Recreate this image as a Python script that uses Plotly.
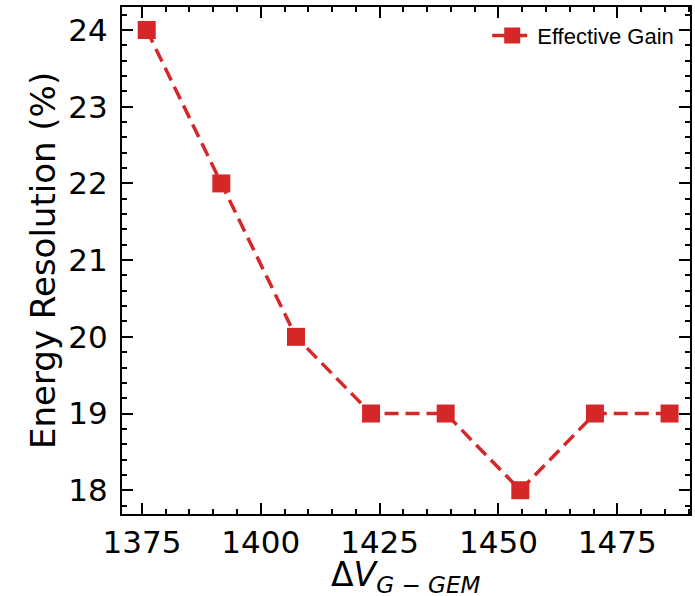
import plotly.graph_objects as go

voltage = [1376, 1391.7, 1407.4, 1423.2, 1438.9, 1454.6, 1470.3, 1486]
resolution = [24, 22, 20, 19, 19, 18, 19, 19]
series_name = "Effective Gain"
x_title = "Δ<i>V</i><sub><i>G − GEM</i></sub>"
y_title = "Energy Resolution (%)"

red = "#d62728"
font_main = "DejaVu Sans"

fig = go.Figure()
fig.add_trace(go.Scatter(
    x=voltage, y=resolution, name=series_name, mode="lines+markers",
    line=dict(color=red, width=3.5, dash="14px,7px"),
    marker=dict(symbol="square", size=18, color=red),
))

axis_common = dict(
    showline=True, linewidth=2, linecolor="black", mirror="ticks",
    ticks="inside", ticklen=11, tickwidth=2, tickcolor="black",
    showgrid=False, zeroline=False,
    tickfont=dict(family=font_main, size=31, color="black"),
)

fig.update_layout(
    width=695, height=596,
    margin=dict(l=122, r=3, t=7, b=82),
    plot_bgcolor="white", paper_bgcolor="white",
    showlegend=True,
    legend=dict(x=0.981, y=0.985, xanchor="right", yanchor="top",
                bgcolor="rgba(0,0,0,0)", itemwidth=40,
                font=dict(family="Liberation Sans", size=22, color="black")),
    xaxis=dict(
        range=[1370.8, 1490.3], tick0=1375, dtick=25,
        minor=dict(ticks="inside", ticklen=5, tickwidth=1.5, dtick=5, tick0=1375, tickcolor="black"),
        **axis_common,
    ),
    yaxis=dict(
        range=[17.69, 24.3], tick0=18, dtick=1,
        minor=dict(ticks="inside", ticklen=5, tickwidth=1.5, dtick=0.2, tick0=18, tickcolor="black"),
        ticklabelstandoff=6,
        **axis_common,
    ),
    annotations=[
        dict(text=x_title, xref="paper", yref="paper", x=0.5, y=-0.123,
             xanchor="center", yanchor="middle", showarrow=False,
             font=dict(family=font_main, size=33, color="black")),
        dict(text=y_title, xref="paper", yref="paper", x=-0.14, y=0.5,
             xanchor="center", yanchor="middle", textangle=-90, showarrow=False,
             font=dict(family=font_main, size=34, color="black")),
    ],
)

fig.write_html("out.html", config={"displayModeBar": False},
               post_script="document.body.style.margin='0';")
